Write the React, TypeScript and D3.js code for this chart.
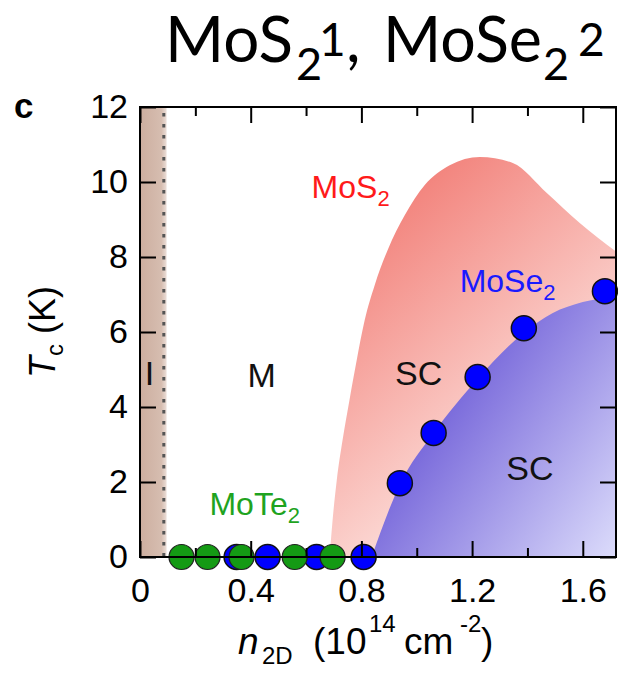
import { useEffect, useRef } from 'react';
import * as d3 from 'd3';

// Phase diagram of gated TMDs: Tc vs sheet carrier density n2D (1e14 cm^-2)

// MoSe2 measured Tc (blue circles)
const moSe2Density = [0.349, 0.461, 0.638, 0.808, 0.939, 1.061, 1.22, 1.387, 1.68];
const moSe2Tc = [0, 0, 0, 0, 1.97, 3.31, 4.8, 6.1, 7.09];

// MoTe2 (green circles, no SC)
const moTe2Density = [0.15, 0.244, 0.367, 0.559, 0.696];
const moTe2Tc = [0, 0, 0, 0, 0];

// MoS2 superconducting dome (upper boundary)
const moS2DomeDensity = [0.685, 0.696, 0.711, 0.732, 0.757, 0.783, 0.812, 0.848, 0.895, 0.957, 1.029, 1.119, 1.228, 1.347, 1.47, 1.589, 1.72];
const moS2DomeTc = [0, 0.99, 2.05, 3.12, 4.19, 5.25, 6.32, 7.25, 8.19, 9.12, 9.92, 10.45, 10.67, 10.51, 9.71, 8.91, 8.15];

// MoSe2 superconducting dome (upper boundary)
const moSe2DomeDensity = [0.837, 0.94, 1.06, 1.22, 1.39, 1.49, 1.6, 1.72];
const moSe2DomeTc = [0, 1.95, 3.3, 4.75, 6.0, 6.5, 6.8, 6.95];

// insulating band and its dotted boundary
const insulatorEdge = 0.096;
const insulatorLine = 0.086;

const xDomain = [0, 1.72];
const yDomain = [0, 12];
const xMajorTicks = [0, 0.4, 0.8, 1.2, 1.6];
const xMinorTicks = [0.2, 0.6, 1.0, 1.4];
const yTicks = [0, 2, 4, 6, 8, 10, 12];

// region annotations (data coords)
const regionLabels = [
    { text: 'I', n: 0.034, t: 4.59 },
    { text: 'M', n: 0.44, t: 4.53 },
    { text: 'SC', n: 1.007, t: 4.59 },
    { text: 'SC', n: 1.409, t: 2.05 },
];

const W = 618;
const H = 676;
const FONT = '"Liberation Sans", Arial, Helvetica, sans-serif';
const TITLE_FONT = 'Lato, "Open Sans", sans-serif';

type Pt = { n: number; t: number };

export default function App() {
    const svgRef = useRef<SVGSVGElement | null>(null);

    useEffect(() => {
        if (!svgRef.current) return;
        const svg = d3.select(svgRef.current);
        svg.selectAll('*').remove();

        const margin = { top: 107, right: 2, bottom: 119, left: 140 };
        const w = W - margin.left - margin.right;
        const h = H - margin.top - margin.bottom;

        const x = d3.scaleLinear().domain(xDomain).range([0, w]);
        const y = d3.scaleLinear().domain(yDomain).range([h, 0]);

        const defs = svg.append('defs');

        const pinkGrad = defs.append('linearGradient')
            .attr('id', 'pinkGrad')
            .attr('gradientUnits', 'userSpaceOnUse')
            .attr('x1', x(0.78)).attr('y1', y(9))
            .attr('x2', x(1.5)).attr('y2', y(3));
        pinkGrad.append('stop').attr('offset', 0).attr('stop-color', '#f27f78');
        pinkGrad.append('stop').attr('offset', 1).attr('stop-color', '#fde4e0');

        const blueGrad = defs.append('linearGradient')
            .attr('id', 'blueGrad')
            .attr('gradientUnits', 'userSpaceOnUse')
            .attr('x1', x(0.95)).attr('y1', y(4))
            .attr('x2', x(1.72)).attr('y2', y(0));
        blueGrad.append('stop').attr('offset', 0).attr('stop-color', '#6a58d6');
        blueGrad.append('stop').attr('offset', 1).attr('stop-color', '#dcdcfb');

        const bandGrad = defs.append('linearGradient')
            .attr('id', 'bandGrad')
            .attr('x1', 0).attr('x2', 1).attr('y1', 0).attr('y2', 0);
        bandGrad.append('stop').attr('offset', 0).attr('stop-color', '#ccae9f');
        bandGrad.append('stop').attr('offset', 0.8).attr('stop-color', '#d6bdb0');
        bandGrad.append('stop').attr('offset', 1).attr('stop-color', '#ebded8');

        // Title, pieced together
        const titlePart = (px: number, py: number, size: number, txt: string, len?: number) => {
            const t = svg.append('text')
                .attr('x', px).attr('y', py)
                .style('font-family', TITLE_FONT)
                .style('font-size', `${size}px`)
                .attr('fill', '#000')
                .text(txt);
            if (len) t.attr('textLength', len).attr('lengthAdjust', 'spacingAndGlyphs');
        };
        titlePart(165, 62, 64, 'MoS', 128);
        titlePart(296, 80, 45, '2');
        titlePart(319, 56, 46, '1');
        titlePart(346, 62, 64, ',');
        titlePart(383, 62, 64, 'MoSe', 159);
        titlePart(543, 80, 45, '2');
        titlePart(578, 56, 46, '2');

        // Panel letter
        svg.append('text')
            .attr('x', 14).attr('y', 118)
            .style('font-family', FONT).style('font-size', '35px').style('font-weight', 'bold')
            .text('c');

        const g = svg.append('g').attr('transform', `translate(${margin.left},${margin.top})`);

        const area = d3.area<Pt>()
            .x(d => x(d.n))
            .y0(y(0))
            .y1(d => y(d.t))
            .curve(d3.curveMonotoneX);

        // MoS2 dome
        const moS2Pts: Pt[] = moS2DomeDensity.map((n, i) => ({ n, t: moS2DomeTc[i] }));
        g.append('path').datum(moS2Pts).attr('d', area).attr('fill', 'url(#pinkGrad)');

        // MoSe2 dome
        const moSe2Pts: Pt[] = moSe2DomeDensity.map((n, i) => ({ n, t: moSe2DomeTc[i] }));
        g.append('path').datum(moSe2Pts).attr('d', area).attr('fill', 'url(#blueGrad)');

        // Insulating band
        g.append('rect')
            .attr('x', x(0)).attr('y', y(12))
            .attr('width', x(insulatorEdge) - x(0)).attr('height', y(0) - y(12))
            .attr('fill', 'url(#bandGrad)');
        g.append('line')
            .attr('x1', x(insulatorLine)).attr('x2', x(insulatorLine))
            .attr('y1', y(12) + 6).attr('y2', y(0))
            .attr('stroke', '#555').attr('stroke-width', 3)
            .attr('stroke-dasharray', '3.5,7.5');

        // Region labels
        regionLabels.forEach(l => {
            g.append('text')
                .attr('x', x(l.n)).attr('y', y(l.t))
                .attr('text-anchor', 'middle')
                .style('font-family', FONT).style('font-size', '34px')
                .attr('fill', '#111')
                .text(l.text);
        });

        // Material labels
        const matLabel = (n: number, t: number, name: string, color: string) => {
            const tx = g.append('text')
                .attr('x', x(n)).attr('y', y(t))
                .style('font-family', FONT).style('font-size', '32px')
                .attr('fill', color);
            tx.append('tspan').text(name);
            tx.append('tspan').attr('dy', 8).style('font-size', '22px').text('2');
        };
        matLabel(0.62, 9.57, 'MoS', '#ff1a1a');
        matLabel(1.155, 7.07, 'MoSe', '#1a1aff');
        matLabel(0.251, 1.12, 'MoTe', '#1fa31f');

        // Data markers
        g.selectAll('circle.mose2')
            .data(moSe2Density.map((n, i) => ({ n, t: moSe2Tc[i] })))
            .join('circle')
            .attr('class', 'mose2')
            .attr('cx', d => x(d.n)).attr('cy', d => y(d.t))
            .attr('r', 12.5)
            .attr('fill', '#0000ff')
            .attr('stroke', '#111').attr('stroke-width', 1.5);

        g.selectAll('circle.mote2')
            .data(moTe2Density.map((n, i) => ({ n, t: moTe2Tc[i] })))
            .join('circle')
            .attr('class', 'mote2')
            .attr('cx', d => x(d.n)).attr('cy', d => y(d.t))
            .attr('r', 12.5)
            .attr('fill', '#149a14')
            .attr('stroke', '#222').attr('stroke-width', 1.2);

        // Axes, inward ticks on all four sides
        const styleAxis = (sel: d3.Selection<SVGGElement, unknown, null, undefined>) => {
            sel.select('.domain').remove();
            sel.selectAll('line').attr('stroke', '#000').attr('stroke-width', 2);
            sel.selectAll('text')
                .style('font-family', FONT).style('font-size', '34px')
                .attr('fill', '#000');
        };
        const fmt = (d: d3.NumberValue) => (+d === 0 ? '0' : d3.format('.1f')(+d));

        g.append('g').attr('transform', `translate(0,${h})`)
            .call(d3.axisBottom(x).tickValues(xMajorTicks).tickSize(-16).tickPadding(21).tickFormat(fmt))
            .call(styleAxis);
        g.append('g').attr('transform', `translate(0,${h})`)
            .call(d3.axisBottom(x).tickValues(xMinorTicks).tickSize(-9).tickFormat(() => ''))
            .call(styleAxis);
        g.append('g')
            .call(d3.axisTop(x).tickValues(xMajorTicks).tickSize(-16).tickFormat(() => ''))
            .call(styleAxis);
        g.append('g')
            .call(d3.axisTop(x).tickValues(xMinorTicks).tickSize(-9).tickFormat(() => ''))
            .call(styleAxis);
        g.append('g')
            .call(d3.axisLeft(y).tickValues(yTicks).tickSize(-16).tickPadding(12).tickFormat(d3.format('d')))
            .call(styleAxis);
        g.append('g').attr('transform', `translate(${w},0)`)
            .call(d3.axisRight(y).tickValues(yTicks).tickSize(-16).tickFormat(() => ''))
            .call(styleAxis);

        // Frame
        g.append('rect')
            .attr('x', 0).attr('y', 0).attr('width', w).attr('height', h)
            .attr('fill', 'none').attr('stroke', '#000').attr('stroke-width', 2);

        // X axis title, pieced together
        const xPart = (px: number, py: number, size: number, txt: string, italic = false) => {
            svg.append('text')
                .attr('x', px).attr('y', py)
                .style('font-family', FONT).style('font-size', `${size}px`)
                .style('font-style', italic ? 'italic' : 'normal')
                .attr('fill', '#000')
                .text(txt);
        };
        xPart(238, 654, 37, 'n', true);
        xPart(262, 664, 24, '2D');
        xPart(313, 654, 37, '(10');
        xPart(369, 632, 24, '14');
        xPart(404, 654, 37, 'cm');
        xPart(460, 632, 24, '-2');
        xPart(481, 654, 37, ')');

        const yTitle = svg.append('text')
            .attr('transform', 'translate(55,378) rotate(-90)')
            .style('font-family', FONT).style('font-size', '36px')
            .attr('fill', '#000');
        yTitle.append('tspan').style('font-style', 'italic').text('T');
        yTitle.append('tspan').attr('dy', 8).style('font-size', '24px').text('c');
        yTitle.append('tspan').attr('dy', -8).text(' (K)');
    }, []);

    return (
        <svg ref={svgRef} width={W} height={H}
            style={{ position: 'absolute', left: 0, top: 0, background: '#fff' }} />
    );
}
